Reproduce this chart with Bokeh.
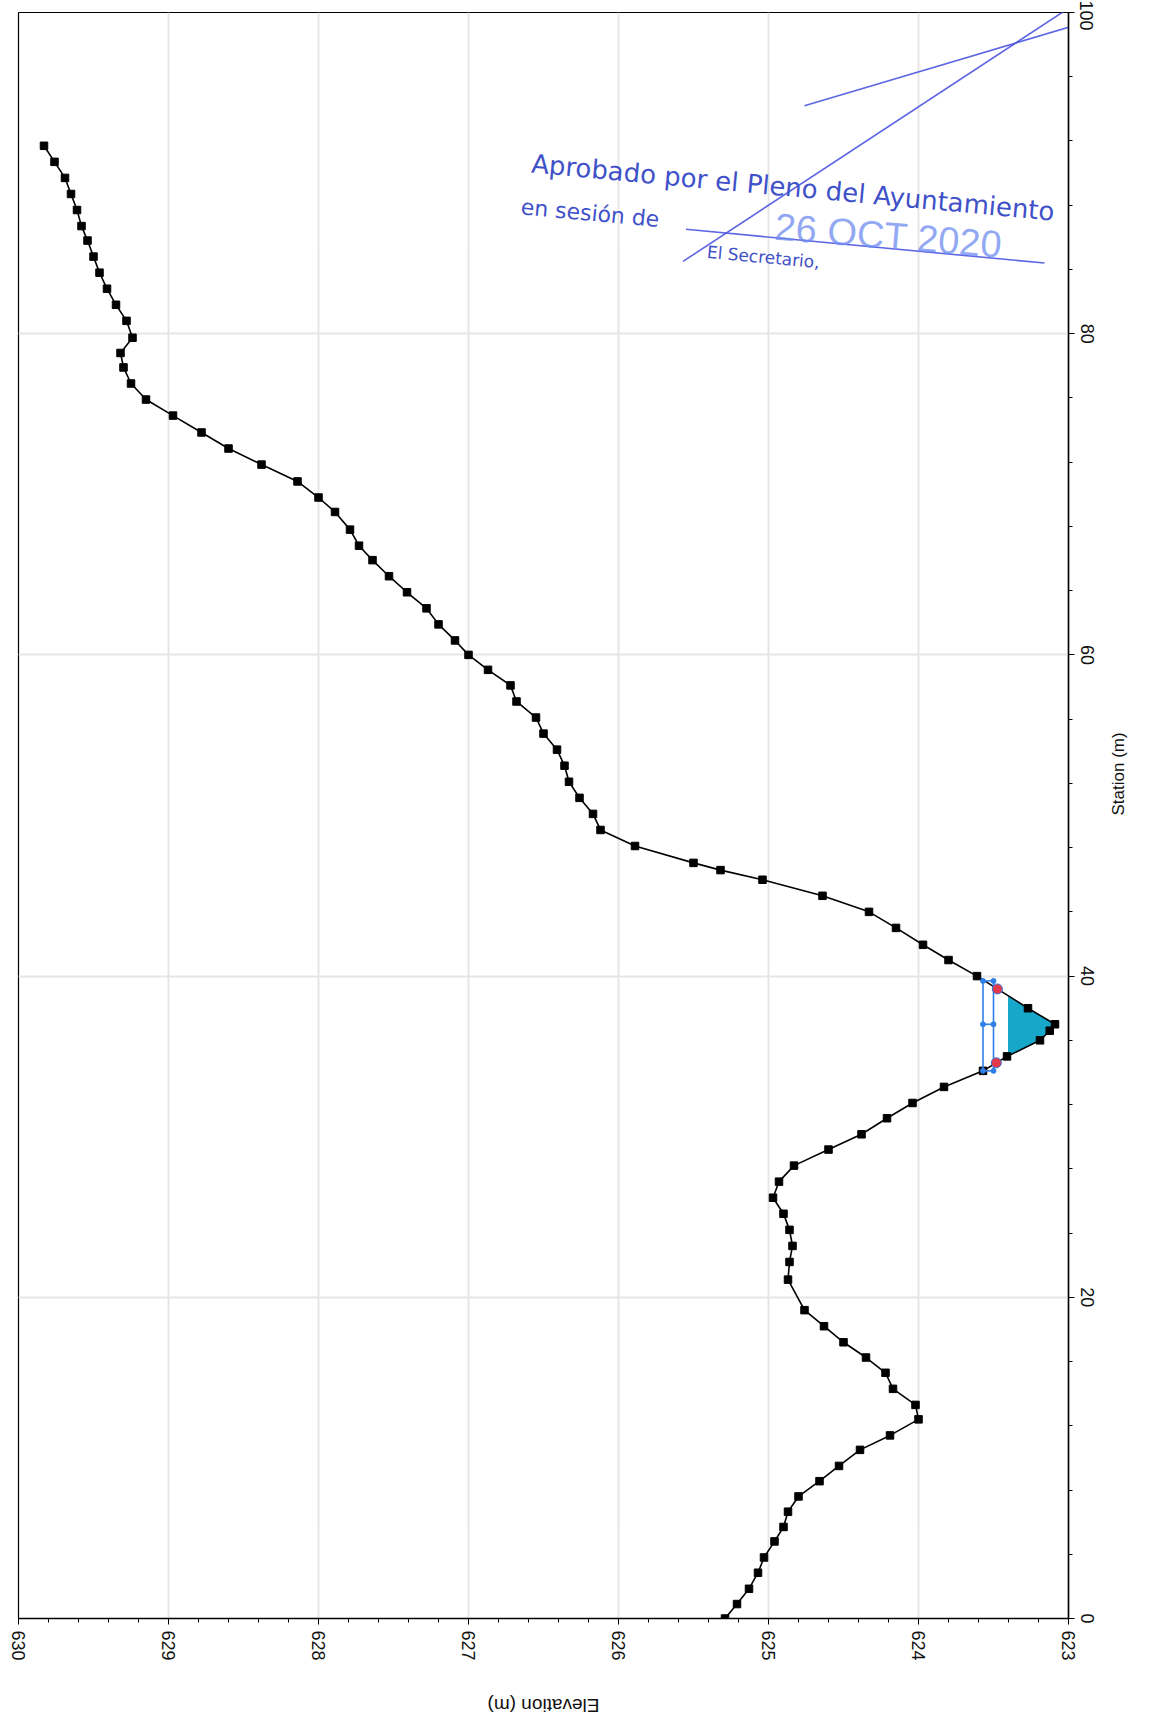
import math
import numpy as np
from bokeh.plotting import figure
from bokeh.layouts import column
from bokeh.models import Range1d, SingleIntervalTicker
from bokeh.core.properties import value
from bokeh.embed import file_html
from bokeh.resources import INLINE

# ---- ground profile (station m, elevation m) ----
station = [0.0, 0.9, 1.85, 2.85, 3.8, 4.8, 5.7, 6.65, 7.6, 8.55, 9.5, 10.5, 11.4, 12.4,
           13.3, 14.3, 15.3, 16.25, 17.2, 18.2, 19.2, 21.1, 22.2, 23.2, 24.2, 25.2, 26.2,
           27.2, 28.2, 29.2, 30.15, 31.15, 32.1, 33.1, 34.1, 35.0, 36.0, 36.6, 37.0, 38.0,
           40.0, 41.0, 41.95, 43.0, 44.0, 45.0, 46.0, 46.6, 47.05, 48.1, 49.1, 50.1, 51.1,
           52.1, 53.1, 54.1, 55.1, 56.1, 57.1, 58.1, 59.07, 60.0, 60.9, 61.9, 62.9, 63.9,
           64.9, 65.9, 66.8, 67.8, 68.9, 69.8, 70.8, 71.85, 72.85, 73.85, 74.9, 75.9, 76.9,
           77.9, 78.8, 79.75, 80.8, 81.8, 82.8, 83.8, 84.8, 85.8, 86.7, 87.7, 88.7, 89.7,
           90.7, 91.7]
elevation = [625.29, 625.21, 625.13, 625.07, 625.03, 624.96, 624.90, 624.87, 624.80, 624.66,
             624.53, 624.39, 624.19, 624.00, 624.02, 624.17, 624.22, 624.35, 624.50, 624.63,
             624.76, 624.87, 624.86, 624.84, 624.86, 624.90, 624.97, 624.93, 624.83, 624.60,
             624.38, 624.21, 624.04, 623.83, 623.57, 623.41, 623.19, 623.125, 623.09, 623.27,
             623.61, 623.80, 623.97, 624.15, 624.33, 624.64, 625.04, 625.32, 625.50, 625.89,
             626.12, 626.17, 626.26, 626.33, 626.36, 626.41, 626.50, 626.55, 626.68, 626.72,
             626.87, 627.00, 627.09, 627.20, 627.28, 627.41, 627.53, 627.64, 627.73, 627.79,
             627.89, 628.00, 628.14, 628.38, 628.60, 628.78, 628.97, 629.15, 629.25, 629.30,
             629.32, 629.24, 629.28, 629.35, 629.41, 629.46, 629.50, 629.54, 629.58, 629.61,
             629.65, 629.69, 629.76, 629.83]

elev_ticks = [623, 624, 625, 626, 627, 628, 629, 630]
station_ticks = [0, 20, 40, 60, 80, 100]
x_title = "Elevation (m)"
y_title = "Station (m)"

water_elev = 623.40
bank_stations = [34.6, 39.2]
blue_elevs = [623.57, 623.50]
blue_stations = [34.1, 37.0, 39.7]

# stamp (scanned approval stamp) texts and strokes
stamp_lines = ["Aprobado por el Pleno del Ayuntamiento", "en sesión de", "26 OCT 2020", "El Secretario,"]
stamp_elev = [626.58, 626.65, 624.20, 625.41]
stamp_station = [90.6, 87.9, 86.1, 85.1]
stroke_elev = [[625.55, 623.16], [625.57, 622.92], [624.76, 622.45]]
stroke_station = [[86.5, 84.4], [84.5, 100.75], [94.2, 100.6]]

FONT = "Liberation Sans"
W = 1140

p = figure(width=W, height=1670,
           x_range=Range1d(elev_ticks[-1], elev_ticks[0]),
           y_range=Range1d(station_ticks[0], station_ticks[-1]),
           output_backend="svg", toolbar_location=None, y_axis_location="right",
           min_border_left=18, min_border_right=72, min_border_top=12, min_border_bottom=52)

p.outline_line_color = "black"
p.outline_line_width = 1.2
p.background_fill_color = "white"
p.border_fill_color = "white"

xa = p.xaxis[0]
xa.ticker = SingleIntervalTicker(interval=1, num_minor_ticks=5)
ya = p.yaxis[0]
ya.ticker = SingleIntervalTicker(interval=20, num_minor_ticks=5)
ya.axis_label = y_title

for ax in (xa, ya):
    ax.major_label_orientation = "vertical"
    ax.major_label_text_font = FONT
    ax.major_label_text_font_size = "18px"
    ax.major_label_text_color = "#111111"
    ax.axis_label_text_font = FONT
    ax.axis_label_text_font_style = "normal"
    ax.axis_label_text_color = "#111111"
    ax.axis_line_color = "black"
    ax.axis_line_width = 1.5
    ax.major_tick_line_color = "black"
    ax.major_tick_out = 6
    ax.major_tick_in = 0
    ax.minor_tick_line_color = "black"
    ax.minor_tick_out = 4
    ax.minor_tick_in = 0
    ax.major_label_standoff = 6

ya.axis_label_text_font_size = "17px"
ya.axis_label_standoff = 22
ya.axis_label_orientation = math.pi / 2

p.xgrid.ticker = xa.ticker
p.ygrid.ticker = ya.ticker
p.grid.grid_line_color = "#e6e6e6"
p.grid.grid_line_width = 2

# water fill computed from ground and water level
st = np.array(station)
el = np.array(elevation)
imin = int(np.argmin(el))
i0 = imin
while el[i0 - 1] < water_elev:
    i0 -= 1
i1 = imin
while el[i1 + 1] < water_elev:
    i1 += 1
s_left = np.interp(water_elev, [el[i0], el[i0 - 1]], [st[i0], st[i0 - 1]])
s_right = np.interp(water_elev, [el[i1], el[i1 + 1]], [st[i1], st[i1 + 1]])
wx = [water_elev] + list(el[i0:i1 + 1]) + [water_elev]
wy = [s_left] + list(st[i0:i1 + 1]) + [s_right]
p.patch(x=wx, y=wy, fill_color="#17a8c9", line_color="#17a8c9", line_width=1)

# ground profile
p.line(x=elevation, y=station, line_color="black", line_width=1.6)
p.scatter(x=elevation, y=station, marker="square", size=7.5, fill_color="black", line_color="black")

# blue structure
for be in blue_elevs:
    p.line(x=[be, be], y=[blue_stations[0], blue_stations[-1]], line_color="#2f7fe6", line_width=1.6)
for bs in blue_stations:
    p.line(x=blue_elevs, y=[bs, bs], line_color="#2f7fe6", line_width=1.6)
bx = [be for bs in blue_stations for be in blue_elevs]
by = [bs for bs in blue_stations for be in blue_elevs]
p.scatter(x=bx, y=by, marker="circle", size=5, fill_color="#2f7fe6", line_color="#2f7fe6")

# bank markers on the ground line
bank_elev = list(np.interp(bank_stations, station, elevation))
p.scatter(x=bank_elev, y=bank_stations, marker="circle", size=10, fill_color="#e23a4a", line_color="#3a6fd8", line_width=1)

# stamp
for sx, sy in zip(stroke_elev, stroke_station):
    p.line(x=sx, y=sy, line_color="#4b55e0", line_width=1.6, line_alpha=0.9)
p.text(x=[stamp_elev[0]], y=[stamp_station[0]], text=[stamp_lines[0]], angle=-0.092,
       text_font=value("DejaVu Sans"), text_font_size="26px", text_color="#3f51c8",
       text_baseline="alphabetic", text_align="left")
p.text(x=[stamp_elev[1]], y=[stamp_station[1]], text=[stamp_lines[1]], angle=-0.092,
       text_font=value("DejaVu Sans"), text_font_size="22px", text_color="#3f51c8",
       text_baseline="alphabetic", text_align="left")
p.text(x=[stamp_elev[2]], y=[stamp_station[2]], text=[stamp_lines[2]], angle=-0.08,
       text_font=value(FONT), text_font_size="38px", text_color="#6f8cf0", text_alpha=0.75,
       text_baseline="middle", text_align="center")
p.text(x=[stamp_elev[3]], y=[stamp_station[3]], text=[stamp_lines[3]], angle=-0.092,
       text_font=value("DejaVu Sans"), text_font_size="17px", text_color="#3f51c8",
       text_baseline="alphabetic", text_align="left")

# strip below the chart holding the (upside-down) elevation axis title
p2 = figure(width=W, height=51, x_range=p.x_range, y_range=Range1d(0, 1),
            output_backend="svg", toolbar_location=None,
            min_border_left=18, min_border_right=72, min_border_top=0, min_border_bottom=0)
p2.axis.visible = False
p2.grid.visible = False
p2.outline_line_color = None
p2.background_fill_color = "white"
p2.border_fill_color = "white"
p2.text(x=[(elev_ticks[0] + elev_ticks[-1]) / 2], y=[0.31], text=[x_title], angle=math.pi,
        text_font=value(FONT), text_font_size="19px", text_color="#111111",
        text_align="center", text_baseline="middle")

open("out.html", "w").write(file_html(column(p, p2, spacing=0), INLINE))
